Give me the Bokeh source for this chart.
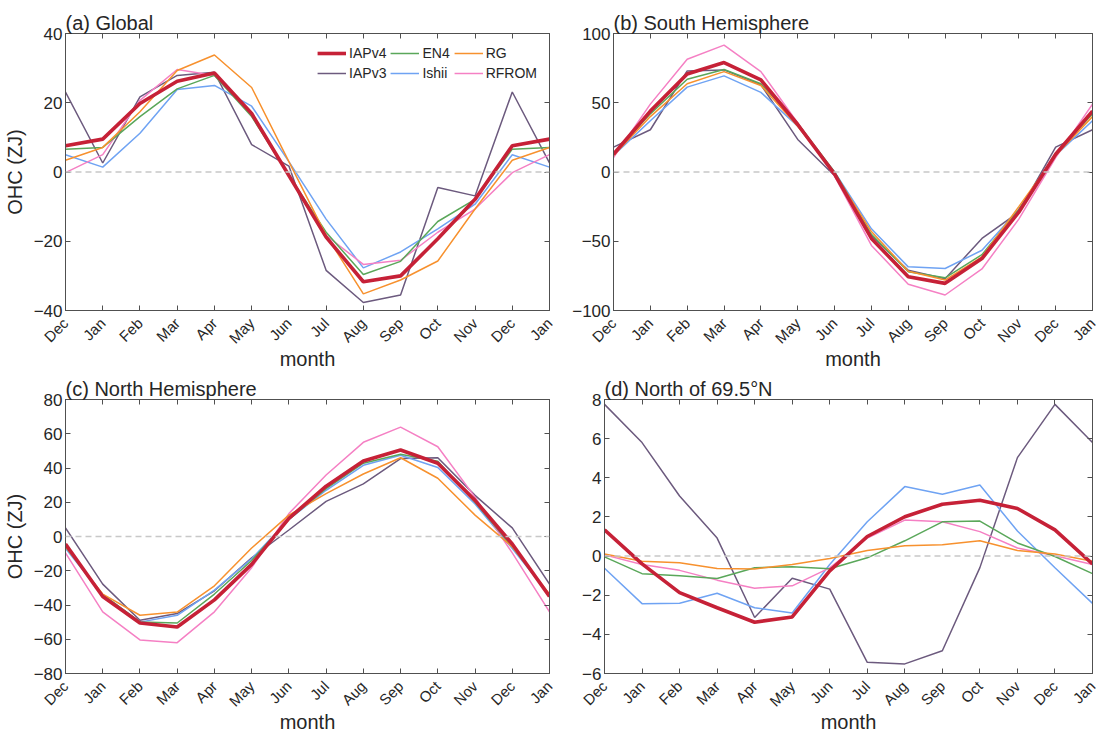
import math
from bokeh.plotting import figure
from bokeh.layouts import row, column
from bokeh.models import Range1d, FixedTicker, LinearAxis, Span, Legend, LegendItem
from bokeh.embed import file_html
from bokeh.resources import INLINE

months = ["Dec", "Jan", "Feb", "Mar", "Apr", "May", "Jun", "Jul",
          "Aug", "Sep", "Oct", "Nov", "Dec", "Jan"]
series_names = ["IAPv4", "EN4", "RG", "IAPv3", "Ishii", "RFROM"]

# (a) Global
glob_iapv4 = [7.6, 9.5, 19.8, 26.2, 28.6, 16.9, -1.0, -18.8, -31.7, -30.0, -19.3, -7.9, 7.6, 9.5]
glob_en4 = [6.6, 7.1, 16.0, 24.0, 27.9, 16.0, -1.0, -17.4, -29.6, -25.8, -14.3, -7.9, 6.6, 7.1]
glob_rg = [3.4, 7.1, 17.4, 29.3, 33.8, 24.4, 3.0, -18.3, -35.2, -31.2, -25.7, -10.7, 3.4, 7.1]
glob_iapv3 = [23.1, 2.6, 21.7, 27.9, 28.8, 7.9, 1.7, -28.4, -37.7, -35.5, -4.5, -6.9, 23.1, 2.6]
glob_ishii = [5.0, 1.4, 11.2, 23.8, 25.0, 19.0, 3.0, -13.6, -27.7, -23.1, -16.4, -9.3, 5.0, 1.4]
glob_rfrom = [-0.2, 5.0, 20.7, 29.6, 27.9, 17.0, -1.0, -18.3, -26.7, -25.5, -17.4, -10.7, -0.2, 5.0]

# (b) South Hemisphere
sh_iapv4 = [12.8, 44, 70.8, 79, 66.5, 34.3, -1.5, -48, -75.6, -80.4, -62.5, -29, 12.8, 44]
sh_en4 = [13, 42, 67, 74, 63.7, 35, 0, -45, -72, -76.4, -59.7, -27, 13, 42]
sh_rg = [12, 40, 63.7, 72.5, 62.5, 33, -1, -43, -71.6, -78, -61.3, -25, 12, 40]
sh_iapv3 = [18, 30.5, 73, 73.7, 63, 23.5, -2.7, -46, -71, -77, -48, -29, 18, 30.5]
sh_ishii = [12, 37, 61.3, 69.4, 57.5, 33, 0, -41, -68.5, -69.7, -56.5, -27, 12, 37]
sh_rfrom = [10.4, 49, 81.4, 91.6, 72.5, 35.5, -3, -53, -81, -88.8, -70, -34, 10.4, 49]

# (c) North Hemisphere
nh_iapv4 = [-4.4, -35, -50.5, -52.8, -37, -16.3, 10.6, 29.4, 44.1, 50.5, 42.8, 21.1, -4.4, -35]
nh_en4 = [-6, -34, -49.9, -50.5, -33.6, -14, 10, 28, 42.8, 48, 44, 20, -6, -34]
nh_rg = [-6, -33.6, -46, -44.1, -28.8, -6.7, 12.5, 25, 36.5, 46, 34, 12.5, -6, -33.6]
nh_iapv3 = [5, -27.8, -48.9, -45, -31.7, -12.5, 3.8, 20.5, 30.7, 45.5, 46, 24, 5, -27.8]
nh_ishii = [-7, -34, -50, -46, -31.3, -13, 10, 27, 41.6, 47.4, 40.3, 19, -7, -34]
nh_rfrom = [-9.6, -44, -60.4, -62, -44, -18.2, 13.4, 35.9, 55, 63.9, 52.4, 23, -9.6, -44]

# (d) North of 69.5N
ar_iapv4 = [1.34, -0.4, -1.87, -2.64, -3.38, -3.11, -0.76, 1.0, 2.01, 2.65, 2.85, 2.43, 1.34, -0.4]
ar_en4 = [-0.04, -0.9, -1.0, -1.15, -0.6, -0.54, -0.65, -0.09, 0.78, 1.75, 1.79, 0.67, -0.02, -0.9]
ar_rg = [0.11, -0.26, -0.34, -0.63, -0.66, -0.43, -0.12, 0.28, 0.53, 0.58, 0.78, 0.28, 0.11, -0.26]
ar_iapv3 = [7.75, 5.8, 3.07, 0.92, -3.14, -1.13, -1.69, -5.43, -5.51, -4.84, -0.59, 5.03, 7.75, 5.8]
ar_ishii = [-0.62, -2.43, -2.41, -1.9, -2.64, -2.91, -0.43, 1.75, 3.55, 3.16, 3.63, 1.28, -0.6, -2.42]
ar_rfrom = [0.06, -0.43, -0.73, -1.23, -1.64, -1.52, -0.6, 0.92, 1.84, 1.75, 1.25, 0.41, 0.02, -0.43]

yticks_a = [-40, -20, 0, 20, 40]
yticks_b = [-100, -50, 0, 50, 100]
yticks_c = [-80, -60, -40, -20, 0, 20, 40, 60, 80]
yticks_d = [-6, -4, -2, 0, 2, 4, 6, 8]

colors = {"IAPv4": "#c62137", "EN4": "#5aa75a", "RG": "#f7912e",
          "IAPv3": "#6c5a7e", "Ishii": "#6fa3f3", "RFROM": "#f580c4"}
widths = {"IAPv4": 3.6, "EN4": 1.5, "RG": 1.5, "IAPv3": 1.5, "Ishii": 1.5, "RFROM": 1.5}

FONT = "Liberation Sans"
TXT = "#262626"
AX = "#505050"
xs = list(range(len(months)))


def base_axis(ax):
    ax.major_tick_in = 5
    ax.major_tick_out = 0
    ax.minor_tick_in = 5
    ax.minor_tick_out = 0
    ax.axis_line_color = AX
    ax.major_tick_line_color = AX
    ax.minor_tick_line_color = AX
    ax.major_label_text_font = FONT
    ax.major_label_text_color = TXT
    ax.axis_label_text_font = FONT
    ax.axis_label_text_color = TXT
    ax.axis_label_text_font_size = "20px"
    ax.axis_label_text_font_style = "normal"


def panel(title, data, yr, yticks, ylabel, w, h, bl, br, bt, bb, legend=False):
    p = figure(width=w, height=h, output_backend="svg", toolbar_location=None, tools="",
               x_range=Range1d(0, 13), y_range=Range1d(*yr),
               min_border_left=bl, min_border_right=br, min_border_top=bt, min_border_bottom=bb)
    p.grid.visible = False
    p.outline_line_color = AX
    p.background_fill_color = "white"
    p.border_fill_color = "white"
    p.title.text = title
    p.title.text_font = FONT
    p.title.text_font_size = "20px"
    p.title.text_font_style = "normal"
    p.title.text_color = TXT
    p.title.align = "left"
    p.title.standoff = 0

    xa = p.below[0]
    base_axis(xa)
    xa.ticker = FixedTicker(ticks=xs)
    xa.minor_tick_line_color = None
    xa.major_label_overrides = {i: m for i, m in enumerate(months)}
    xa.major_label_orientation = math.pi / 4
    xa.major_label_text_font_size = "15px"
    xa.major_label_standoff = 10
    xa.axis_label = "month"
    xa.axis_label_standoff = -8

    ya = p.left[0]
    base_axis(ya)
    ya.ticker = FixedTicker(ticks=yticks)
    ya.minor_tick_line_color = None
    ya.major_label_text_font_size = "17px"
    ya.major_label_standoff = 3
    if ylabel:
        ya.axis_label = ylabel
        ya.axis_label_standoff = 5

    top = LinearAxis(ticker=FixedTicker(ticks=[], minor_ticks=xs))
    base_axis(top)
    p.add_layout(top, "above")
    right = LinearAxis(ticker=FixedTicker(ticks=[], minor_ticks=yticks))
    base_axis(right)
    p.add_layout(right, "right")

    p.add_layout(Span(location=0, dimension="width", line_color="#c8c8c8",
                      line_dash="6 4", line_width=1.5))

    rends = {}
    for name in ["IAPv3", "Ishii", "RFROM", "EN4", "RG", "IAPv4"]:
        rends[name] = p.line(xs, data[name], line_color=colors[name], line_width=widths[name])

    if legend:
        items = [LegendItem(label=n, renderers=[rends[n]]) for n in series_names]
        lg = Legend(items=items, location="top_right", orientation="horizontal", ncols=3,
                    background_fill_alpha=0, border_line_alpha=0,
                    label_text_font=FONT, label_text_font_size="14px", label_text_color=TXT,
                    glyph_width=29, glyph_height=16, label_height=16, label_standoff=3,
                    spacing=4, padding=3, margin=9)
        p.add_layout(lg)
    return p


def d(a, b, c, e, f, g):
    return dict(zip(series_names, [a, b, c, e, f, g]))


pa = panel("(a) Global", d(glob_iapv4, glob_en4, glob_rg, glob_iapv3, glob_ishii, glob_rfrom),
           (-40, 40), yticks_a, "OHC (ZJ)", 569, 372, 61, 20, 33, 60, legend=True)
pb = panel("(b) South Hemisphere", d(sh_iapv4, sh_en4, sh_rg, sh_iapv3, sh_ishii, sh_rfrom),
           (-100, 100), yticks_b, None, 539, 372, 35, 16, 33, 60)
pc = panel("(c) North Hemisphere", d(nh_iapv4, nh_en4, nh_rg, nh_iapv3, nh_ishii, nh_rfrom),
           (-80, 80), yticks_c, "OHC (ZJ)", 569, 363, 61, 20, 27, 59)
pd = panel("(d) North of 69.5°N", d(ar_iapv4, ar_en4, ar_rg, ar_iapv3, ar_ishii, ar_rfrom),
           (-6, 8), yticks_d, None, 539, 363, 35, 16, 27, 59)

layout = column(row(pa, pb), row(pc, pd))
open("out.html", "w").write(file_html(layout, INLINE))
